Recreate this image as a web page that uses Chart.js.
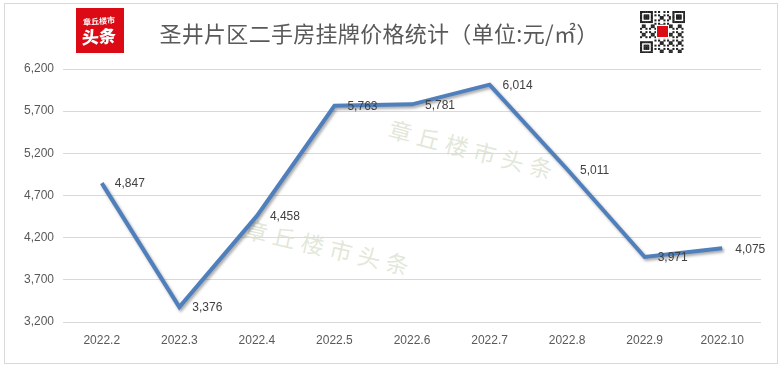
<!DOCTYPE html>
<html>
<head>
<meta charset="utf-8">
<script src="https://cdn.jsdelivr.net/npm/chart.js@4/dist/chart.umd.min.js"></script>
<style>
  html, body { margin: 0; padding: 0; background: #fff; }
  #wrap { position: relative; width: 783px; height: 369px; overflow: hidden; background: #fff; }
  #frame { position: absolute; left: 4px; top: 3px; width: 772px; height: 359px; border: 1px solid #d9d9d9; }
  #title { position: absolute; left: 0; top: 17px; width: 758px; text-align: center; font-family: "Noto Sans CJK SC", sans-serif; font-size: 22px; color: #595959; line-height: 30px; letter-spacing: 0.3px; }
  #logo { position: absolute; left: 76px; top: 8px; width: 48px; height: 45px; background: #dc0a14; }
  #logo .s { position: absolute; left: 7px; top: 8px; width: 36px; font-family: "Noto Sans CJK SC", sans-serif; font-size: 8px; line-height: 9px; color: #fff; font-weight: bold; transform: rotate(-4deg); white-space: nowrap; }
  #logo .b { position: absolute; left: 6px; top: 18px; font-family: "Noto Sans CJK SC", sans-serif; font-size: 17px; line-height: 19px; color: #fff; font-weight: 900; transform: rotate(-4deg) skewX(-6deg); white-space: nowrap; }
  #qr { position: absolute; left: 640px; top: 11px; }
  .wm { position: absolute; font-family: "Noto Sans CJK SC", sans-serif; font-size: 23px; letter-spacing: 6px; color: rgba(190,202,170,0.45); white-space: nowrap; transform-origin: center center; }
  #chart { position: absolute; left: 0; top: 0; }
</style>
</head>
<body>
<div id="wrap">
  <div id="frame"></div>
  <div class="wm" id="wm1">章丘楼市头条</div>
  <div class="wm" id="wm2">章丘楼市头条</div>
  <canvas id="chart" width="783" height="369"></canvas>
  <div id="title">圣井片区二手房挂牌价格统计（单位:元/㎡）</div>
  <div id="logo"><div class="s">章丘楼市</div><div class="b">头条</div></div>
  <canvas id="qr" width="45" height="42"></canvas>
</div>
<script>
const categories = ['2022.2','2022.3','2022.4','2022.5','2022.6','2022.7','2022.8','2022.9','2022.10'];
const prices = [4847, 3376, 4458, 5763, 5781, 6014, 5011, 3971, 4075];
const yTicks = [3200, 3700, 4200, 4700, 5200, 5700, 6200];

// watermarks placement
function placeWm(id, cx, cy, deg) {
  const el = document.getElementById(id);
  const w = el.offsetWidth, h = el.offsetHeight;
  el.style.left = (cx - w / 2) + 'px';
  el.style.top = (cy - h / 2) + 'px';
  el.style.transform = 'rotate(' + deg + 'deg)';
}
placeWm('wm1', 474, 149, 14.5);
placeWm('wm2', 330, 247, 13);

// decorative QR-like code
(function () {
  const c = document.getElementById('qr').getContext('2d');
  const n = 25, sx = 45 / n, sy = 42 / n;
  c.fillStyle = '#fff'; c.fillRect(0, 0, 45, 42);
  c.fillStyle = '#222';
  function finder(x0, y0) {
    for (let i = 0; i < 7; i++) for (let j = 0; j < 7; j++) {
      const edge = i === 0 || i === 6 || j === 0 || j === 6;
      const core = i >= 2 && i <= 4 && j >= 2 && j <= 4;
      if (edge || core) c.fillRect((x0 + i) * sx, (y0 + j) * sy, sx + 0.3, sy + 0.3);
    }
  }
  for (let i = 0; i < n; i++) for (let j = 0; j < n; j++) {
    const inF = (i < 8 && j < 8) || (i >= n - 8 && j < 8) || (i < 8 && j >= n - 8);
    if (inF) continue;
    if (((i * 7 + j * 13 + i * j * 3) % 5) < 2) c.fillRect(i * sx, j * sy, sx + 0.3, sy + 0.3);
  }
  finder(0, 0); finder(n - 7, 0); finder(0, n - 7);
  c.fillStyle = '#fff'; c.fillRect(16, 14, 13, 13);
  c.fillStyle = '#dc0a14'; c.fillRect(17, 15, 11, 11);
})();

const shadowPlugin = {
  id: 'lineShadow',
  beforeDatasetDraw(chart) {
    const ctx = chart.ctx;
    ctx.save();
    ctx.shadowColor = 'rgba(0,0,0,0.35)';
    ctx.shadowBlur = 3;
    ctx.shadowOffsetX = 1.5;
    ctx.shadowOffsetY = 2;
  },
  afterDatasetDraw(chart) { chart.ctx.restore(); }
};

const labelPlugin = {
  id: 'valueLabels',
  afterDatasetsDraw(chart) {
    const ctx = chart.ctx;
    const meta = chart.getDatasetMeta(0);
    ctx.save();
    ctx.font = '12px "Liberation Sans", Arial, sans-serif';
    ctx.fillStyle = '#404040';
    ctx.textAlign = 'left';
    ctx.textBaseline = 'middle';
    meta.data.forEach((pt, i) => {
      const v = chart.data.datasets[0].data[i];
      ctx.fillText(v.toLocaleString('en-US'), pt.x + 13, pt.y + 1);
    });
    ctx.restore();
  }
};

new Chart(document.getElementById('chart'), {
  type: 'line',
  data: {
    labels: categories,
    datasets: [{
      data: prices,
      borderColor: '#4f7fbc',
      borderWidth: 4,
      tension: 0,
      pointRadius: 0,
      pointHoverRadius: 0,
      fill: false,
      borderJoinStyle: 'miter'
    }]
  },
  options: {
    responsive: false,
    animation: false,
    locale: 'en-US',
    devicePixelRatio: 1,
    layout: { padding: { left: 0, right: 22, top: 69, bottom: 0 } },
    plugins: { legend: { display: false }, tooltip: { enabled: false } },
    scales: {
      x: {
        offset: true,
        grid: { display: false, drawTicks: false },
        border: { display: false },
        ticks: { color: '#595959', font: { family: '"Liberation Sans", Arial, sans-serif', size: 12 }, padding: 11, maxRotation: 0 },
        afterFit(s) { s.height = 47; }
      },
      y: {
        min: 3200, max: 6200,
        afterBuildTicks(s) { s.ticks = yTicks.map(v => ({ value: v })); },
        grid: { color: '#d9d9d9', lineWidth: 1, drawTicks: false },
        border: { display: false },
        ticks: { color: '#595959', font: { family: '"Liberation Sans", Arial, sans-serif', size: 12 }, padding: 9,
          callback: v => Number(v).toLocaleString('en-US') },
        afterFit(s) { s.width = 63; }
      }
    }
  },
  plugins: [shadowPlugin, labelPlugin]
});
</script>
</body>
</html>
